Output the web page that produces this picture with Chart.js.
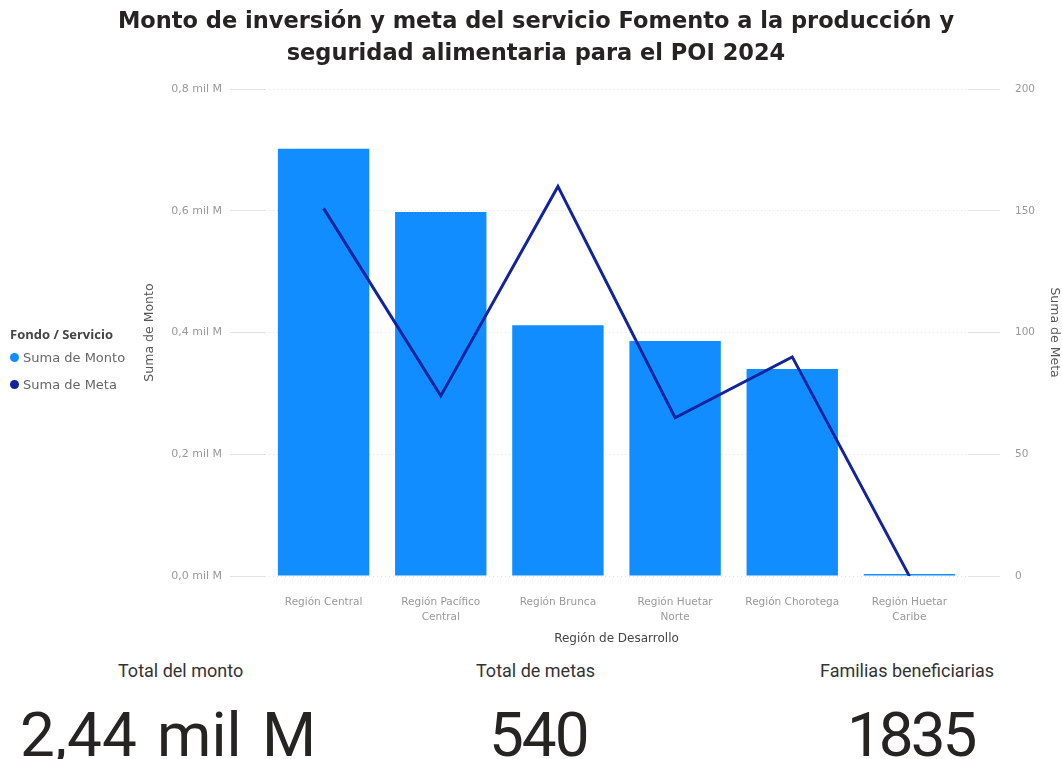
<!DOCTYPE html>
<html>
<head>
<meta charset="utf-8">
<script src="https://cdn.jsdelivr.net/npm/chart.js@4.4.1/dist/chart.umd.min.js"></script>
<style>
  body { margin: 0; background: #fff; font-family: "DejaVu Sans", sans-serif; }
  #titulo { position: absolute; left: 0; top: 4px; width: 1072px; text-align: center; font-weight: bold; font-size: 22.5px; line-height: 32px; color: #252423; }
  #wrap { position: relative; width: 1062px; height: 646px; }
  #leyenda { position: absolute; left: 10px; top: 325px; font-size: 13px; color: #666; }
  #leyenda .tit { font-family: "Open Sans", sans-serif; font-weight: bold; color: #444; font-size: 13px; height: 22px; }
  #leyenda .item { height: 27px; line-height: 22px; white-space: nowrap; }
  #leyenda .punto { display: inline-block; width: 9px; height: 9px; border-radius: 50%; margin-right: 4px; }
  .kpi { position: absolute; color: #252423; font-family: Roboto, sans-serif; white-space: nowrap; }
  .lbl { top: 660px; font-size: 18px; color: #333; }
  .val { top: 700px; font-size: 62px; line-height: 70px; }
</style>
</head>
<body>
<div id="wrap"><canvas id="grafica"></canvas></div>
<div id="titulo">Monto de inversión y meta del servicio Fomento a la producción y<br>seguridad alimentaria para el POI 2024</div>
<div id="leyenda"></div>
<div class="kpi lbl" style="left:118px">Total del monto</div>
<div class="kpi val" style="left:20px; word-spacing:5px">2,44 mil M</div>
<div class="kpi lbl" style="left:476px">Total de metas</div>
<div class="kpi val" style="left:489px; letter-spacing:-2px">540</div>
<div class="kpi lbl" style="left:820px">Familias beneficiarias</div>
<div class="kpi val" style="left:847px; letter-spacing:-3px">1835</div>
<script>
// Datos
var regiones = [
  "Región Central",
  ["Región Pacífico", "Central"],
  "Región Brunca",
  ["Región Huetar", "Norte"],
  "Región Chorotega",
  ["Región Huetar", "Caribe"]
];
// Monto en miles de millones (mil M)
var montos = [0.702, 0.598, 0.412, 0.386, 0.340, 0.002];
var metas = [151, 74, 160, 65, 90, 0];

var colorMonto = "#118DFF";
var colorMeta = "#12239E";

Chart.defaults.font.family = "'DejaVu Sans', sans-serif";

var ctx = document.getElementById("grafica").getContext("2d");
var miGrafica = new Chart(ctx, {
  data: {
    labels: regiones,
    datasets: [
      {
        type: "line",
        label: "Suma de Meta",
        data: metas,
        yAxisID: "y2",
        borderColor: colorMeta,
        backgroundColor: colorMeta,
        borderWidth: 3,
        pointRadius: 0,
        tension: 0,
        order: 0
      },
      {
        type: "bar",
        label: "Suma de Monto",
        data: montos,
        yAxisID: "y",
        backgroundColor: colorMonto,
        categoryPercentage: 0.78,
        barPercentage: 1,
        minBarLength: 2,
        order: 1
      }
    ]
  },
  options: {
    responsive: true,
    maintainAspectRatio: false,
    animation: false,
    layout: { padding: { left: 140, right: 0, top: 89, bottom: 0 } },
    plugins: {
      title: { display: false },
      legend: { display: false },
      tooltip: { enabled: false }
    },
    scales: {
      x: {
        grid: { display: false },
        border: { display: false },
        ticks: { color: "#999", font: { size: 10.5, lineHeight: 1.5 }, maxRotation: 0, autoSkip: false, padding: 10 },
        title: { display: true, text: "Región de Desarrollo", color: "#444", font: { size: 12 }, padding: { top: -4, bottom: 0 } }
      },
      y: {
        position: "left",
        min: 0,
        max: 0.8,
        afterFit: function (scale) { scale.width = 125; },
        grid: { color: "#e2e2e2", tickLength: 35, tickColor: "#e2e2e2" },
        border: { display: false, dash: [1, 3] },
        ticks: {
          stepSize: 0.2,
          color: "#999",
          font: { size: 11 },
          padding: 8,
          callback: function (v) { return v.toFixed(1).replace(".", ",") + " mil M"; }
        },
        title: { display: true, text: "Suma de Monto", color: "#555", font: { size: 12.5 }, padding: { top: 2, bottom: 0 } }
      },
      y2: {
        position: "right",
        min: 0,
        max: 200,
        afterFit: function (scale) { scale.width = 94; },
        border: { display: false, dash: [1, 3] },
        grid: { drawOnChartArea: false, tickLength: 32, tickColor: "#e2e2e2" },
        ticks: { stepSize: 50, color: "#999", font: { size: 10.5 }, padding: 15 },
        title: { display: true, text: "Suma de Meta", color: "#555", font: { size: 12.5 }, padding: { top: 0, bottom: 0 } }
      }
    }
  }
});

// Leyenda HTML con los mismos colores de las series
var leyenda = document.getElementById("leyenda");
var html = '<div class="tit">Fondo / Servicio</div>';
html += '<div class="item"><span class="punto" style="background:' + colorMonto + '"></span>Suma de Monto</div>';
html += '<div class="item"><span class="punto" style="background:' + colorMeta + '"></span>Suma de Meta</div>';
leyenda.innerHTML = html;
</script>
</body>
</html>
